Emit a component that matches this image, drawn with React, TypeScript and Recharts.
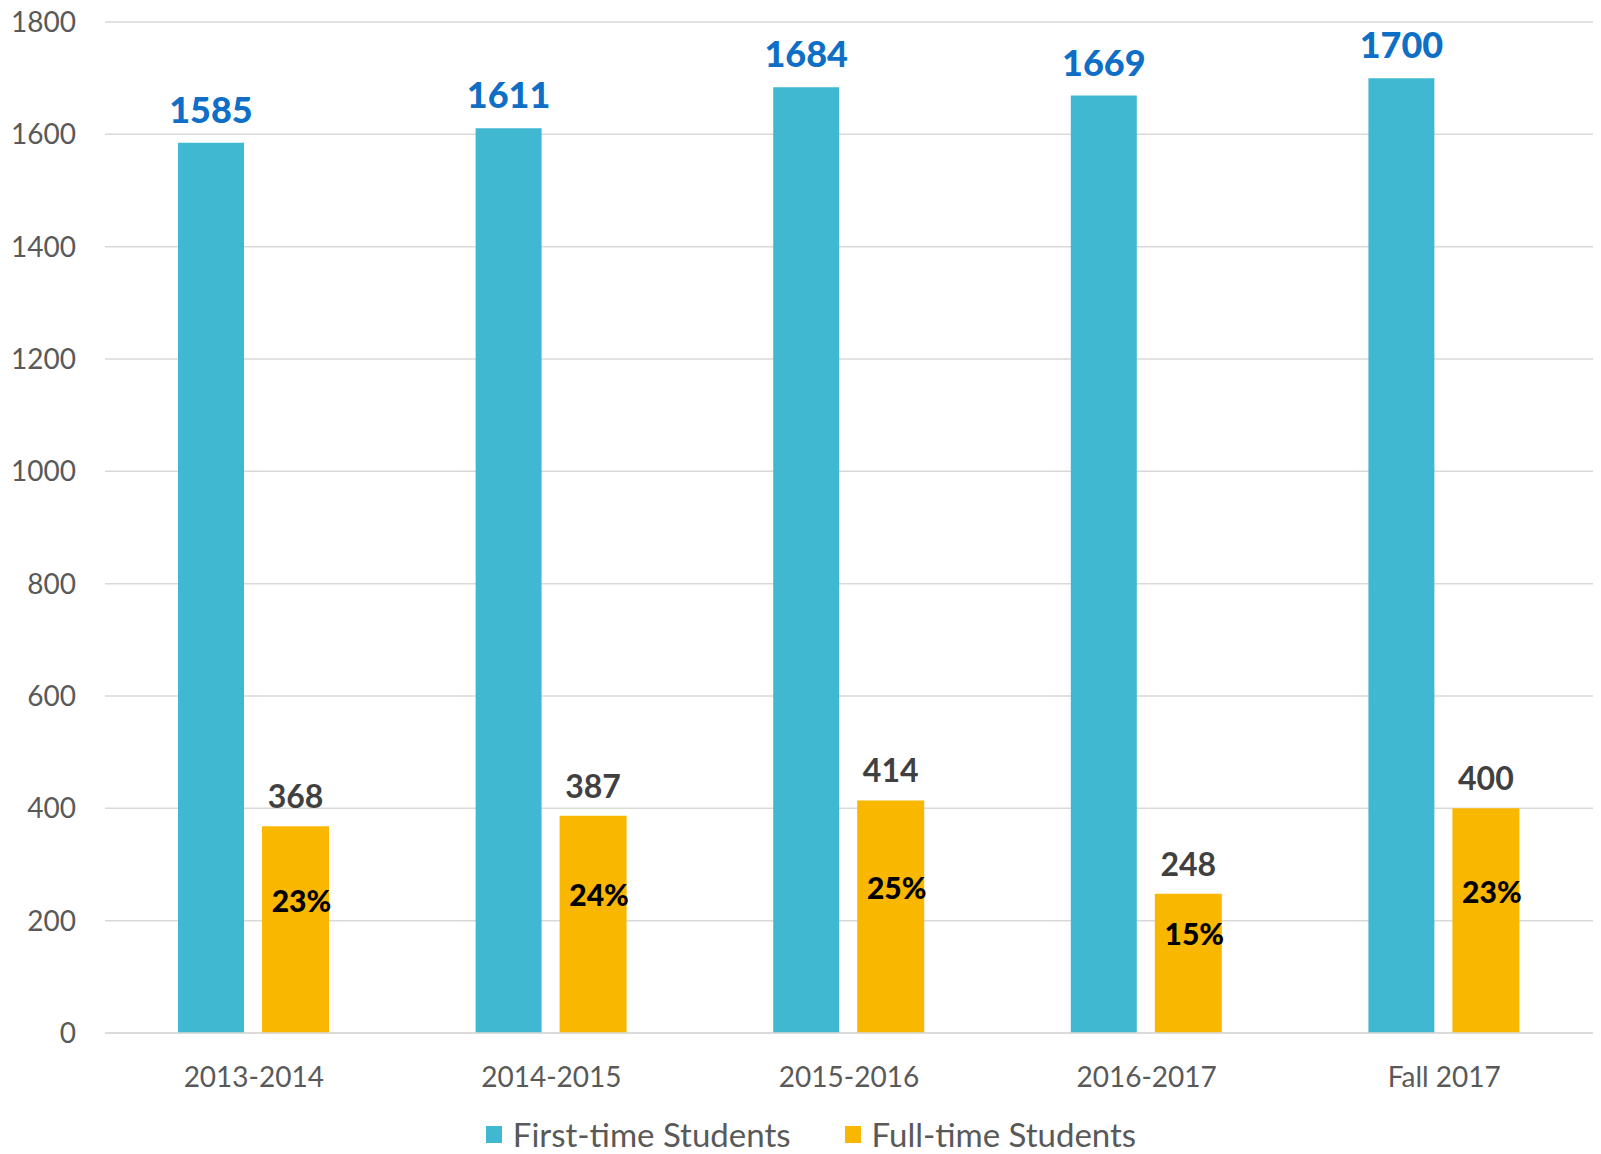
import React from 'react';
import { BarChart, Bar, XAxis, YAxis, CartesianGrid, Legend, LabelList } from 'recharts';

const categories = ['2013-2014', '2014-2015', '2015-2016', '2016-2017', 'Fall 2017'];
const firstTime = [1585, 1611, 1684, 1669, 1700];
const fullTime = [368, 387, 414, 248, 400];
const fullTimePct = ['23%', '24%', '25%', '15%', '23%'];
const yTicks = [0, 200, 400, 600, 800, 1000, 1200, 1400, 1600, 1800];

const data = categories.map((c, i) => ({
  name: c,
  first: firstTime[i],
  full: fullTime[i],
  pct: fullTimePct[i],
}));

const FONT = 'Lato, "Open Sans", sans-serif';
const BLUE = '#41B8D2';
const YELLOW = '#F9B700';

const PctLabel = (props: any) => {
  const { x, y, width, height, index } = props;
  return (
    <text
      x={x + width / 2 + 6}
      y={y + height / 2 - 30}
      textAnchor="middle"
      dominantBaseline="central"
      fontFamily={FONT}
      fontWeight={900}
      fontSize={30}
      fill="#000000"
    >
      {fullTimePct[index]}
    </text>
  );
};

const LegendContent = () => (
  <div
    style={{
      display: 'flex',
      justifyContent: 'center',
      alignItems: 'center',
      fontFamily: FONT,
      fontSize: 33,
      lineHeight: '40px',
      color: '#595959',
      paddingLeft: 29,
    }}
  >
    <span style={{ display: 'inline-block', width: 16, height: 17, background: BLUE, marginRight: 11 }} />
    <span style={{ marginRight: 54 }}>First-time Students</span>
    <span style={{ display: 'inline-block', width: 16, height: 17, background: YELLOW, marginRight: 11 }} />
    <span>Full-time Students</span>
  </div>
);

export default function App() {
  return (
    <div style={{ position: 'absolute', left: 0, top: 0, width: 1601, height: 1154, background: '#fff' }}>
      <BarChart
        width={1601}
        height={1154}
        data={data}
        margin={{ top: 22, right: 8, bottom: 0, left: 0 }}
        barGap={18}
      >
        <CartesianGrid vertical={false} stroke="#D9D9D9" strokeWidth={1.5} />
        <XAxis
          dataKey="name"
          height={81}
          axisLine={{ stroke: '#D9D9D9', strokeWidth: 1.5 }}
          tickLine={false}
          tick={{ fill: '#595959', fontSize: 28, fontFamily: FONT }}
          tickMargin={28}
        />
        <YAxis
          width={105}
          domain={[0, 1800]}
          ticks={yTicks}
          axisLine={false}
          tickLine={false}
          tickMargin={23}
          tick={{ fill: '#595959', fontSize: 28, fontFamily: FONT }}
        />
        <Legend
          verticalAlign="bottom"
          content={<LegendContent />}
          wrapperStyle={{ bottom: 0 }}
        />
        <Bar dataKey="first" name="First-time Students" fill={BLUE} barSize={66} isAnimationActive={false}>
          <LabelList
            dataKey="first"
            position="top"
            offset={20}
            fill="#0F6FC6"
            fontSize={36}
            fontWeight={900}
            fontFamily={FONT}
          />
        </Bar>
        <Bar dataKey="full" name="Full-time Students" fill={YELLOW} barSize={67} isAnimationActive={false}>
          <LabelList
            dataKey="full"
            position="top"
            offset={18}
            fill="#404040"
            fontSize={32}
            fontWeight={700}
            fontFamily={FONT}
          />
          <LabelList dataKey="pct" content={<PctLabel />} />
        </Bar>
      </BarChart>
    </div>
  );
}
